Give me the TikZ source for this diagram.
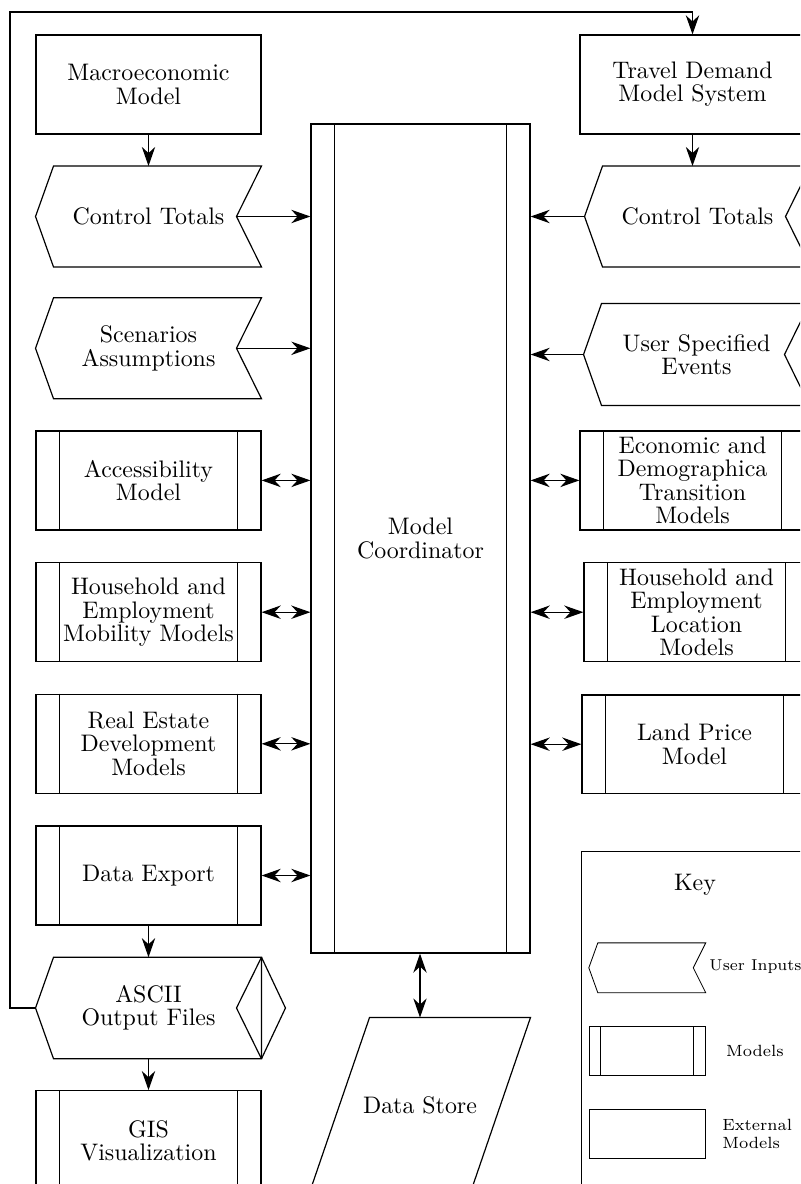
\documentclass[tikz,border=0pt]{standalone}
\usetikzlibrary{arrows.meta,calc}
\def\pxu{0.4184pt}
\newcommand\mainfnt{\fontsize{10}{9.75}\selectfont}
\newcommand\keyfnt{\fontsize{6.8}{7.5}\selectfont}
\newcommand\keyfntb{\fontsize{6.6}{7.5}\selectfont}
\tikzset{
  ln/.style={line width=0.5pt},
  keyln/.style={line width=0.35pt},
  arr/.style={ln, -{Stealth[length=8pt,width=5.6pt,inset=2.6pt]}},
  darr/.style={ln, {Stealth[length=8pt,width=5.6pt,inset=2.6pt]}-{Stealth[length=8pt,width=5.6pt,inset=2.6pt]}},
  boxbase/.style={inner sep=0pt, align=center, font=\mainfnt, minimum width=225*\pxu, minimum height=99*\pxu},
  extbox/.style={boxbase, draw, ln},
  modbox/.style={boxbase, draw, ln},
  inbox/.style={boxbase, minimum height=100*\pxu},
  keytxt/.style={inner sep=0pt, font=\keyfnt},
}
\begin{document}
\begin{tikzpicture}[x=\pxu, y=-\pxu]
\useasboundingbox (0,0) rectangle (800,1184);
\clip (0,0) rectangle (800,1184);

% left column
\node[extbox] (macro) at (148.5,84.5) {Macroeconomic\\Model};
\node[inbox] (ctl) at (148.5,216.5) {Control Totals};
\node[inbox] (scen) at (148.5,348.3) {Scenarios\\Assumptions};
\node[modbox] (acc) at (148.5,480.4) {Accessibility\\Model};
\node[modbox] (hhm) at (148.5,612.2) {Household and\\Employment\\Mobility Models};
\node[modbox] (red) at (148.5,743.8) {Real Estate\\Development\\Models};
\node[modbox] (dex) at (148.5,875.5) {Data Export};
\node[inbox, minimum height=100.6*\pxu] (ascii) at (148.5,1008) {ASCII\\Output Files};
\node[modbox, minimum height=100*\pxu] (gis) at (148.5,1140.7) {GIS\\Visualization};

% centre
\node[draw, ln, inner sep=0pt, align=center, font=\mainfnt, minimum width=219*\pxu, minimum height=829*\pxu] (mc) at (420.5,538.5) {Model\\Coordinator};
\node[inner sep=0pt, font=\mainfnt, minimum width=160*\pxu, minimum height=174*\pxu] (ds) at (420,1105) {Data Store};

% right column
\node[extbox] (tdm) at (692.5,84.5) {Travel Demand\\Model System};
\node[inbox] (ctr) at (697.5,216.5) {Control Totals};
\node[inbox, minimum height=101*\pxu] (ev) at (696.5,354.5) {User Specified\\Events};
\node[modbox] (edt) at (692.5,480.4) {Economic and\\Demographica\\Transition\\Models};
\node[modbox] (hhl) at (696.5,612.2) {Household and\\Employment\\Location\\Models};
\node[modbox, minimum height=98.3*\pxu] (lpm) at (694.5,744.2) {Land Price\\Model};

% key
\node[draw, ln, inner sep=0pt, minimum width=236.6*\pxu, minimum height=356.6*\pxu] (key) at (700,1030) {};
\node[inner sep=0pt, font=\mainfnt] (keyt) at (695,885) {Key};
\node[inner sep=0pt, minimum width=116*\pxu, minimum height=49*\pxu] (kui) at (647.3,967.8) {};
\node[draw, keyln, inner sep=0pt, minimum width=116*\pxu, minimum height=48.3*\pxu] (kmod) at (647.3,1050.8) {};
\node[draw, keyln, inner sep=0pt, minimum width=116*\pxu, minimum height=49*\pxu] (kext) at (647.3,1133.8) {};
\node[keytxt, font=\keyfntb, anchor=west] (kuil) at (709,967) {User Inputs};
\node[keytxt] (kmodl) at (755,1051) {Models};
\node[keytxt, anchor=west, align=left] (kextl) at (722,1134) {External\\Models};

% user input shapes
\foreach \n in {ctl,scen,ctr,ev} {
  \draw[ln] ($(\n.north west)+(18,0)$) -- (\n.north east) -- ($(\n.east)+(-25,0)$) -- (\n.south east) -- ($(\n.south west)+(18,0)$) -- (\n.west) -- cycle;
}
\draw[keyln] ($(kui.north west)+(9,0)$) -- (kui.north east) -- ($(kui.east)+(-12.5,0)$) -- (kui.south east) -- ($(kui.south west)+(9,0)$) -- (kui.west) -- cycle;

% ASCII output shape
\draw[ln] ($(ascii.north west)+(18,0)$) -- (ascii.north east) -- (ascii.south east) -- ($(ascii.south west)+(18,0)$) -- (ascii.west) -- cycle;
\draw[ln] (ascii.north east) -- ($(ascii.east)+(24,0)$) -- (ascii.south east);
\draw[ln] (ascii.north east) -- ($(ascii.east)+(-25,0)$) -- (ascii.south east);

% data store
\draw[ln] ($(ds.north west)+(30,0)$) -- ($(ds.north east)+(30,0)$) -- ($(ds.south east)+(-30,0)$) -- ($(ds.south west)+(-30,0)$) -- cycle;

% model inner lines
\foreach \n in {acc,hhm,red,dex,gis,edt,hhl,lpm,mc} {
  \draw[ln] ($(\n.north west)+(24,0)$) -- ($(\n.south west)+(24,0)$)
            ($(\n.north east)+(-24,0)$) -- ($(\n.south east)+(-24,0)$);
}
\draw[keyln] ($(kmod.north west)+(12,0)$) -- ($(kmod.south west)+(12,0)$)
             ($(kmod.north east)+(-12,0)$) -- ($(kmod.south east)+(-12,0)$);

% connectors
\coordinate (ctlR) at ($(ctl.east)+(-25,0)$);
\coordinate (scenR) at ($(scen.east)+(-25,0)$);
\draw[arr] (macro.south) -- (ctl.north);
\draw[arr] (ctlR) -- (ctlR -| mc.west);
\draw[arr] (scenR) -- (scenR -| mc.west);
\foreach \n in {acc,hhm,red,dex} {
  \draw[darr] (\n.east) -- (\n.east -| mc.west);
}
\draw[arr] (tdm.south) -- (tdm.south |- ctr.north);
\draw[arr] (ctr.west) -- (ctr.west -| mc.east);
\draw[arr] (ev.west) -- (ev.west -| mc.east);
\foreach \n in {edt,hhl,lpm} {
  \draw[darr] (\n.west) -- (\n.west -| mc.east);
}
\draw[arr] (dex.south) -- (ascii.north);
\draw[arr] (ascii.south) -- (gis.north);
\draw[darr] (ds.north |- mc.south) -- (ds.north);
\coordinate (fb) at (10,12);
\draw[arr] (ascii.west) -| (fb) -| (tdm.north);
\end{tikzpicture}
\end{document}
